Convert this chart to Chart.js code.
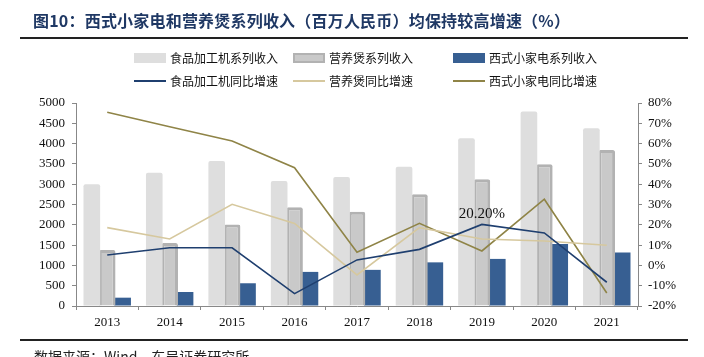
<!DOCTYPE html>
<html>
<head>
<meta charset="utf-8">
<script src="https://cdn.jsdelivr.net/npm/chart.js@4.4.1/dist/chart.umd.min.js"></script>
<style>
  html,body{margin:0;padding:0;background:#fff;}
  body{width:704px;height:357px;position:relative;overflow:hidden;font-family:"Noto Sans CJK SC",sans-serif;}
  #c{position:absolute;left:0;top:0;}
  #title{position:absolute;left:33px;top:8px;font-size:16px;font-weight:bold;color:#1f3864;letter-spacing:0.2px;white-space:nowrap;font-family:"Noto Sans CJK SC",serif;}
  .rule{position:absolute;left:20px;width:668px;height:2px;background:#222;}
  #source{position:absolute;left:34px;top:346px;font-size:14px;color:#222;white-space:nowrap;}
  .lg{position:absolute;font-size:12px;color:#111;white-space:nowrap;line-height:14px;display:flex;align-items:center;}
  .sw{display:inline-block;width:32px;margin-right:4px;}
</style>
</head>
<body>
<canvas id="c" width="704" height="357"></canvas>
<div id="title">图10：西式小家电和营养煲系列收入（百万人民币）均保持较高增速（%）</div>
<div class="rule" style="top:37px"></div>
<div id="legend"></div>
<div class="rule" style="top:339px"></div>
<div id="source">数据来源：Wind，东吴证券研究所</div>
<script>
const categories = ['2013','2014','2015','2016','2017','2018','2019','2020','2021'];
const foodRevenue = [3000, 3280, 3570, 3080, 3180, 3430, 4130, 4790, 4380];
const potRevenue = [1380, 1550, 2010, 2430, 2320, 2750, 3120, 3490, 3840];
const westernRevenue = [205, 345, 560, 840, 890, 1075, 1160, 1530, 1320];
const foodGrowth = [5.1, 8.7, 8.7, -13.9, 2.7, 7.9, 20.2, 16.0, -8.3];
const potGrowth = [18.6, 13.0, 30.1, 20.7, -4.7, 18.6, 13.0, 12.0, 9.9];
const westernGrowth = [75.4, 68.3, 61.3, 48.1, 6.5, 20.7, 7.1, 32.6, -13.6];
const leftTicks = [0,500,1000,1500,2000,2500,3000,3500,4000,4500,5000];
const rightTicks = [-20,-10,0,10,20,30,40,50,60,70,80];
const seriesNames = ['食品加工机系列收入','营养煲系列收入','西式小家电系列收入','食品加工机同比增速','营养煲同比增速','西式小家电同比增速'];

const C = {
  light:'#dedede', gray:'#c9c9c9', grayBorder:'#b2b2b2', blue:'#375f92',
  navy:'#1f3f6f', tan:'#d6c89e', olive:'#8f8447'
};
const serif = "'Liberation Serif','Times New Roman',serif";

const labelPlugin = {
  id:'dlabel',
  afterDatasetsDraw(chart){
    const meta = chart.getDatasetMeta(3);
    const i = 6;
    const pt = meta.data[i];
    const ctx = chart.ctx;
    ctx.save();
    ctx.font = "15px " + serif;
    ctx.fillStyle = '#111';
    ctx.textAlign = 'center';
    ctx.textBaseline = 'bottom';
    ctx.fillText(foodGrowth[i].toFixed(2) + '%', pt.x, pt.y - 3);
    ctx.restore();
  }
};

const chart = new Chart(document.getElementById('c'), {
  data:{
    labels:categories,
    datasets:[
      {type:'bar', label:seriesNames[0], data:foodRevenue, backgroundColor:C.light, borderWidth:0, borderRadius:{topLeft:2,topRight:2}, yAxisID:'y', order:1},
      {type:'bar', label:seriesNames[1], data:potRevenue, backgroundColor:C.gray, borderColor:C.grayBorder, borderWidth:3, borderSkipped:'bottom', borderRadius:{topLeft:2,topRight:2}, yAxisID:'y', order:1},
      {type:'bar', label:seriesNames[2], data:westernRevenue, backgroundColor:C.blue, borderWidth:0, yAxisID:'y', order:1},
      {type:'line', label:seriesNames[3], data:foodGrowth, borderColor:C.navy, borderWidth:1.6, pointRadius:0, tension:0, yAxisID:'y1', order:0},
      {type:'line', label:seriesNames[4], data:potGrowth, borderColor:C.tan, borderWidth:1.6, pointRadius:0, tension:0, yAxisID:'y1', order:0},
      {type:'line', label:seriesNames[5], data:westernGrowth, borderColor:C.olive, borderWidth:1.6, pointRadius:0, tension:0, yAxisID:'y1', order:0}
    ]
  },
  options:{
    responsive:false, animation:false, devicePixelRatio:1,
    layout:{padding:{top:103,left:0,right:0,bottom:0}},
    datasets:{bar:{categoryPercentage:0.74, barPercentage:1.08}},
    plugins:{legend:{display:false}, tooltip:{enabled:false}},
    scales:{
      x:{
        offset:true,
        grid:{display:true, drawOnChartArea:false, offset:true, tickLength:4, color:'#888'},
        border:{display:true, color:'#888', width:1},
        ticks:{font:{family:serif,size:13}, color:'#111', padding:5},
        afterFit(s){ s.height = 51; }
      },
      y:{
        position:'left', min:0, max:5000,
        afterBuildTicks(s){ s.ticks = leftTicks.map(v=>({value:v})); },
        grid:{display:true, drawOnChartArea:false, tickLength:4, color:'#888'},
        border:{display:true, color:'#888', width:1},
        ticks:{font:{family:serif,size:13}, color:'#111', padding:7, callback:v=>String(v)},
        afterFit(s){ s.width = 76; }
      },
      y1:{
        position:'right', min:-20, max:80,
        afterBuildTicks(s){ s.ticks = rightTicks.map(v=>({value:v})); },
        grid:{display:true, drawOnChartArea:false, tickLength:4, color:'#888'},
        border:{display:true, color:'#888', width:1},
        ticks:{font:{family:serif,size:13}, color:'#111', padding:6, callback:v=>v+'%'},
        afterFit(s){ s.width = 66; }
      }
    }
  },
  plugins:[labelPlugin]
});

// HTML legend built from the datasets
const legendPos = [[134,51],[293,51],[453,51],[134,74],[293,74],[453,74]];
const lg = document.getElementById('legend');
chart.data.datasets.forEach((ds,i)=>{
  const d = document.createElement('div');
  d.className='lg';
  d.style.left = legendPos[i][0]+'px';
  d.style.top = legendPos[i][1]+'px';
  const sw = document.createElement('span');
  sw.className='sw';
  if(ds.type==='bar'){
    sw.style.height='10px';
    sw.style.background=ds.backgroundColor;
    if(ds.borderWidth){ sw.style.boxSizing='border-box'; sw.style.border='2px solid '+ds.borderColor; }
  } else {
    sw.style.height='2px';
    sw.style.background=ds.borderColor;
  }
  d.appendChild(sw);
  d.appendChild(document.createTextNode(ds.label));
  lg.appendChild(d);
});
</script>
</body>
</html>
